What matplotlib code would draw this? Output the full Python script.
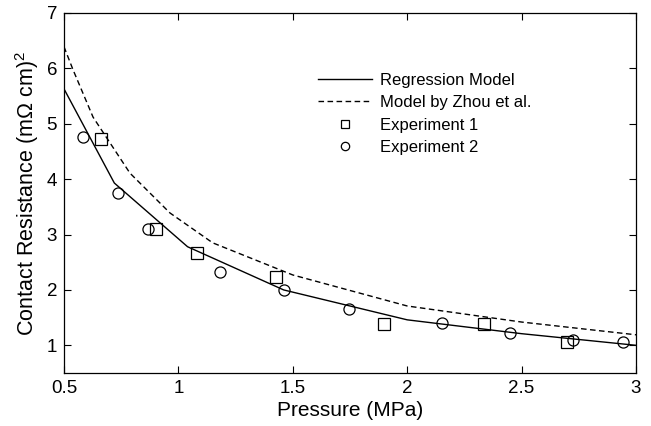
import matplotlib
matplotlib.use("Agg")
import matplotlib.pyplot as plt

plt.rcParams['font.family'] = ['Liberation Sans', 'DejaVu Sans']
plt.rcParams['mathtext.fontset'] = 'custom'
plt.rcParams['mathtext.rm'] = 'Liberation Sans'
plt.rcParams['mathtext.it'] = 'Liberation Sans:italic'

# Regression model
reg_x = [0.5, 0.72, 1.04, 1.46, 2.0, 2.5, 3.0]
reg_y = [5.63, 3.93, 2.78, 2.0, 1.46, 1.21, 1.0]
# Model by Zhou et al.
zhou_x = [0.5, 0.54, 0.627, 0.788, 0.963, 1.15, 1.5, 2.0, 2.5, 3.0]
zhou_y = [6.39, 5.97, 5.12, 4.11, 3.39, 2.85, 2.27, 1.71, 1.42, 1.19]
# Experiment 1
exp1_x = [0.662, 0.902, 1.081, 1.427, 1.899, 2.336, 2.698]
exp1_y = [4.73, 3.10, 2.67, 2.235, 1.39, 1.39, 1.06]
# Experiment 2
exp2_x = [0.583, 0.738, 0.867, 1.182, 1.461, 1.746, 2.152, 2.449, 2.725, 2.943]
exp2_y = [4.76, 3.75, 3.10, 2.325, 2.0, 1.66, 1.40, 1.22, 1.10, 1.06]

xticks = [0.5, 1, 1.5, 2, 2.5, 3]
xticklabels = ['0.5', '1', '1.5', '2', '2.5', '3']
yticks = [1, 2, 3, 4, 5, 6, 7]

fig = plt.figure(figsize=(6.51, 4.26), dpi=100)
ax = fig.add_axes([0.0983, 0.1244, 0.8787, 0.8451])

ax.plot(reg_x, reg_y, '-', color='black', lw=1.0, label='Regression Model')
ax.plot(zhou_x, zhou_y, '--', color='black', lw=1.0, dashes=(4, 2.5), label='Model by Zhou et al.')
ax.plot(exp1_x, exp1_y, 's', ms=8, mfc='none', mec='black', mew=0.9, label='Experiment 1')
ax.plot(exp2_x, exp2_y, 'o', ms=8, mfc='none', mec='black', mew=0.9, label='Experiment 2')

ax.set_xlim(0.5, 3)
ax.set_ylim(0.5, 7)
ax.set_xticks(xticks)
ax.set_xticklabels(xticklabels)
ax.set_yticks(yticks)
ax.tick_params(direction='in', top=True, right=True, labelsize=13.5, length=5, width=0.8, pad=5)
for s in ax.spines.values():
    s.set_linewidth(0.9)

ax.set_xlabel('Pressure (MPa)', fontsize=15, labelpad=3)
ax.set_ylabel(r'Contact Resistance (m$\Omega$ cm)$^2$', fontsize=15.5, labelpad=4)

ax.legend(loc='upper left', bbox_to_anchor=(0.444, 0.834), frameon=False, fontsize=12,
          handlelength=3.25, handletextpad=0.5, labelspacing=0.45, markerscale=0.75,
          borderpad=0, borderaxespad=0)

fig.savefig('out.png', dpi=100)
